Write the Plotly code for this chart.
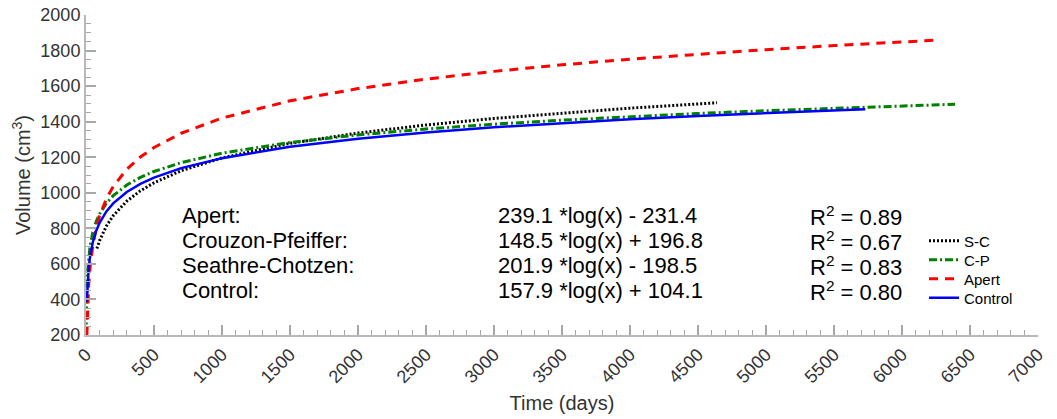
import plotly.graph_objects as go

# Volume growth curves (days vs cm^3) for each group
apert_days = [6, 10, 20, 30, 50, 75, 100, 150, 200, 300, 400, 500, 700, 1000, 1500,
              2000, 2500, 3000, 3500, 4000, 4500, 5000, 5500, 6000, 6230]
apert_vol = [197.0, 319.2, 484.9, 581.8, 704.0, 800.9, 869.7, 966.6, 1035.4, 1132.4,
             1201.2, 1254.5, 1335.0, 1420.3, 1517.2, 1586.0, 1639.3, 1682.9, 1719.8,
             1751.7, 1779.9, 1805.1, 1827.9, 1848.7, 1857.7]

cp_days = [1, 2, 3, 5, 10, 20, 30, 50, 75, 100, 150, 200, 300, 400, 500, 700, 1000,
           1500, 2000, 2500, 3000, 3500, 4000, 4500, 5000, 5500, 6000, 6390]
cp_vol = [196.8, 299.7, 359.9, 435.8, 538.7, 641.7, 701.9, 777.7, 838.0, 880.7, 940.9,
          983.6, 1043.8, 1086.5, 1119.7, 1169.6, 1222.6, 1282.8, 1325.5, 1358.7,
          1385.8, 1408.6, 1428.5, 1446.0, 1461.6, 1475.8, 1488.7, 1498.0]

sc_days = [80, 100, 150, 200, 300, 400, 500, 700, 1000, 1500, 2000, 2500, 3000, 3500,
           4000, 4500, 4640]
sc_vol = [686.2, 731.3, 813.1, 871.2, 953.1, 1011.2, 1056.2, 1124.2, 1196.2, 1278.0,
          1336.1, 1381.2, 1418.0, 1449.1, 1476.1, 1499.8, 1506.0]

ctrl_days = [6, 10, 20, 30, 50, 75, 100, 150, 200, 300, 400, 500, 700, 1000, 1500,
             2000, 2500, 3000, 3500, 4000, 4500, 5000, 5500, 5730]
ctrl_vol = [387.0, 467.7, 577.1, 641.1, 721.8, 785.8, 831.3, 895.3, 940.7, 1004.7,
            1050.2, 1085.4, 1138.5, 1194.8, 1258.9, 1304.3, 1339.5, 1368.3, 1392.6,
            1413.7, 1432.3, 1449.0, 1464.0, 1470.5]

# Fit summary table
group_names = ["Apert:", "Crouzon-Pfeiffer:", "Seathre-Chotzen:", "Control:"]
fit_slopes = [239.1, 148.5, 201.9, 157.9]
fit_intercepts = [-231.4, 196.8, -198.5, 104.1]
fit_r2 = [0.89, 0.67, 0.83, 0.80]

x_ticks = list(range(0, 7001, 500))
y_ticks = list(range(200, 2001, 200))

FONT = "Liberation Sans, Arial, Helvetica, sans-serif"

# plot area in pixels
W, H = 1057, 419
L, R, T, B = 86, 19, 15, 84
pw, ph = W - L - R, H - T - B


def px_x(p):
    return (p - L) / pw


def px_y(p):
    return (H - B - p) / ph


series = [
    ("S-C", sc_days, sc_vol, dict(color="black", width=3, dash="2px,2px")),
    ("C-P", cp_days, cp_vol, dict(color="#008000", width=3, dash="8px,3px,2px,3px")),
    ("Apert", apert_days, apert_vol, dict(color="#ff0000", width=3, dash="9px,7px")),
    ("Control", ctrl_days, ctrl_vol, dict(color="#0000ff", width=2.5)),
]

fig = go.Figure()
legend_rows = [241, 260, 279, 298]
legend_layout = {}
for i, (name, xs, ys, line) in enumerate(series):
    key = "legend" if i == 0 else f"legend{i + 1}"
    fig.add_trace(go.Scatter(x=xs, y=ys, mode="lines", name=name, line=line,
                             legend=key))
    legend_layout[key] = dict(
        x=px_x(924), y=px_y(legend_rows[i]), xanchor="left", yanchor="middle",
        bgcolor="rgba(0,0,0,0)", borderwidth=0, itemwidth=30,
        font=dict(family=FONT, size=15, color="black"),
    )

row_y = [215.5, 240.5, 265.8, 290.8]
col_x = [180, 496, 808]
for i, name in enumerate(group_names):
    b = fit_intercepts[i]
    sign = "-" if b < 0 else "+"
    eq = f"{fit_slopes[i]:.1f} *log(x) {sign} {abs(b):.1f}"
    r2 = f"R<sup>2</sup> = {fit_r2[i]:.2f}"
    for cx, txt in zip(col_x, [name, eq, r2]):
        fig.add_annotation(x=px_x(cx), y=px_y(row_y[i]), xref="paper", yref="paper",
                           text=txt, showarrow=False, xanchor="left", yanchor="middle",
                           font=dict(family=FONT, size=22, color="black"))

axis_common = dict(
    showgrid=False, zeroline=False, showline=True, linecolor="#b8b8b8", linewidth=2,
    ticks="inside", ticklen=10, tickwidth=1.5, tickcolor="#a8a8a8",
    tickfont=dict(family=FONT, size=18, color="#333333"), automargin=False,
)

fig.update_layout(
    width=W, height=H,
    margin=dict(l=L, r=R, t=T, b=B, pad=0, autoexpand=False),
    paper_bgcolor="white", plot_bgcolor="white",
    font=dict(family=FONT, color="#333333"),
    xaxis=dict(range=[0, 7000], tickvals=x_ticks, tickangle=-45,
               title=dict(text="Time (days)", font=dict(family=FONT, size=20, color="#333333"),
                          standoff=10),
               minor=dict(dtick=100, ticks="inside", ticklen=5, tickcolor="#a8a8a8",
                          tickwidth=1, showgrid=False),
               **axis_common),
    yaxis=dict(range=[200, 2000], tickvals=y_ticks,
               title=dict(text="Volume (cm<sup>3</sup>)",
                          font=dict(family=FONT, size=20, color="#333333"), standoff=4),
               minor=dict(dtick=50, ticks="inside", ticklen=5, tickcolor="#a8a8a8",
                          tickwidth=1, showgrid=False),
               **axis_common),
    showlegend=True,
    **legend_layout,
)

fig.write_html("out.html")
